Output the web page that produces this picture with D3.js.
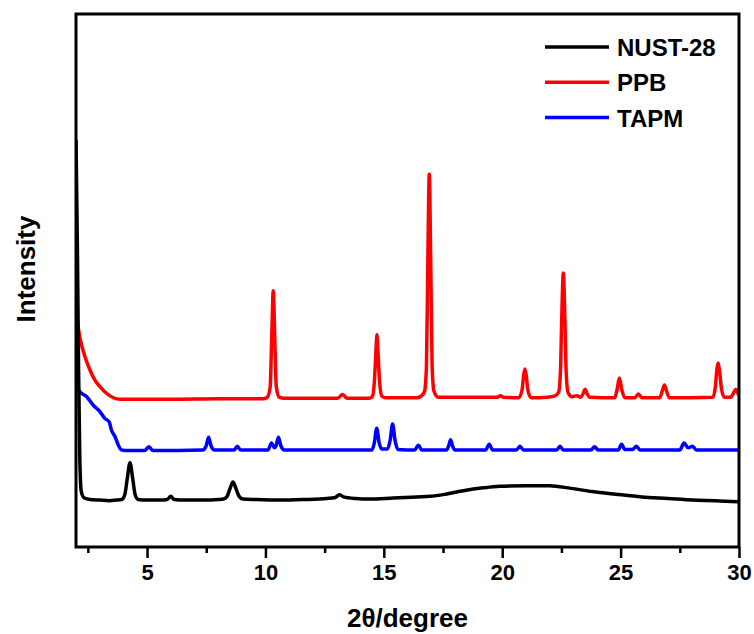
<!DOCTYPE html>
<html>
<head>
<meta charset="utf-8">
<script src="https://cdn.jsdelivr.net/npm/d3@7"></script>
<style>
  body { margin: 0; background: #fff; }
  text { font-family: "Liberation Sans", Arial, sans-serif; font-weight: bold; }
</style>
</head>
<body>
<div id="xrd-chart"></div>
<script>
// series names + colours for legend
const seriesNames = ['NUST-28', 'PPB', 'TAPM'];
const seriesColors = ['#000000', '#ff0000', '#0000ff'];

// x axis ticks
const majorTicks = [5, 10, 15, 20, 25, 30];
const minorTicks = [2.5, 7.5, 12.5, 17.5, 22.5, 27.5];
const tickLabels = ['5', '10', '15', '20', '25', '30'];

// [2theta, intensity (a.u., stacked)]
const nust28 = [
  [2.00, 764], [2.06, 560], [2.11, 330], [2.16, 170], [2.22, 105], [2.35, 92],
  [2.6, 89], [3.0, 88], [3.4, 87], [3.7, 88], [3.93, 89], [4.06, 98], [4.17, 130],
  [4.28, 158], [4.39, 130], [4.5, 98], [4.63, 89], [5.0, 88], [5.6, 88],
  [5.85, 89], [6.0, 95], [6.15, 89], [6.6, 88], [7.4, 88], [8.0, 89],
  [8.23, 90], [8.37, 94], [8.5, 109], [8.63, 122], [8.76, 109], [8.89, 95],
  [9.05, 90], [9.6, 89], [10.6, 88], [11.6, 89], [12.6, 91], [12.95, 93],
  [13.12, 98], [13.3, 94], [13.8, 91], [14.4, 90], [15.4, 92], [16.4, 94],
  [16.95, 95], [17.6, 99], [18.3, 105], [19.2, 111], [19.9, 114], [21.0, 115],
  [22.0, 115], [22.9, 110], [23.8, 104], [24.8, 99], [25.9, 94], [27.0, 91],
  [28.05, 88], [29.0, 87], [30.0, 85]
];

const ppb = [
  [2.00, 439], [2.17, 392], [2.38, 357], [2.59, 332], [2.8, 313], [3.01, 301],
  [3.3, 288], [3.58, 280], [3.86, 277], [4.5, 277], [6.0, 277], [8.0, 278],
  [9.9, 278], [10.08, 281], [10.2, 300], [10.27, 400], [10.33, 481], [10.39, 400],
  [10.46, 300], [10.58, 281], [10.8, 279], [13.05, 279], [13.26, 286], [13.45, 279],
  [14.4, 279], [14.52, 283], [14.6, 310], [14.66, 360], [14.71, 398], [14.76, 360],
  [14.82, 310], [14.92, 283], [15.05, 280], [16.4, 280], [16.6, 284], [16.72, 292],
  [16.8, 338], [16.86, 540], [16.92, 700], [16.98, 540], [17.04, 338], [17.12, 292],
  [17.3, 281], [19.8, 281], [19.92, 284], [20.05, 281], [20.7, 280], [20.84, 295],
  [20.9, 320], [20.96, 334], [21.02, 320], [21.08, 295], [21.22, 280], [21.9, 281],
  [22.2, 283], [22.38, 290], [22.46, 330], [22.52, 440], [22.58, 514], [22.64, 440],
  [22.7, 330], [22.78, 290], [22.95, 282], [23.15, 284], [23.32, 281], [23.42, 288],
  [23.5, 296], [23.58, 288], [23.7, 281], [24.75, 280], [24.85, 295], [24.95, 317],
  [25.05, 295], [25.18, 280], [25.6, 280], [25.75, 287], [25.9, 280], [26.65, 280],
  [26.76, 293], [26.85, 304], [26.94, 293], [27.05, 280], [28.9, 281], [29.0, 300],
  [29.07, 335], [29.12, 345], [29.18, 330], [29.26, 297], [29.38, 281], [29.65, 281],
  [29.78, 290], [29.87, 296], [29.95, 289], [30.0, 284]
];

const tapm = [
  [2.00, 304], [2.17, 291], [2.45, 282], [2.73, 266], [3.01, 254], [3.22, 241],
  [3.4, 235], [3.5, 219], [3.65, 207], [3.79, 191], [3.93, 182], [4.2, 181],
  [4.9, 181], [5.08, 188], [5.25, 181], [7.35, 182], [7.5, 190], [7.6, 206],
  [7.7, 190], [7.85, 182], [8.68, 182], [8.81, 189], [8.95, 182], [10.1, 182],
  [10.26, 195], [10.38, 186], [10.45, 190], [10.55, 206], [10.65, 190], [10.8, 182],
  [14.5, 182], [14.6, 196], [14.7, 223], [14.8, 196], [14.92, 184], [15.15, 184],
  [15.27, 201], [15.37, 231], [15.47, 201], [15.6, 183], [16.3, 182], [16.46, 191],
  [16.6, 182], [17.65, 182], [17.74, 190], [17.82, 201], [17.9, 190], [18.0, 182],
  [19.3, 182], [19.45, 193], [19.6, 182], [20.6, 182], [20.75, 189], [20.9, 182],
  [22.3, 182], [22.44, 189], [22.58, 182], [23.75, 182], [23.9, 188], [24.05, 182],
  [24.9, 182], [25.04, 193], [25.18, 183], [25.5, 183], [25.67, 189], [25.82, 182],
  [27.5, 182], [27.68, 195], [27.85, 186], [28.04, 189], [28.2, 182], [30.0, 182]
];

//@function config
const width = 754, height = 634;
const margin = { top: 14, right: 15, bottom: 87, left: 76 };
const plotW = width - margin.left - margin.right;
const plotH = height - margin.top - margin.bottom;

const x = d3.scaleLinear().domain([2, 30]).range([0, plotW]);
const y = d3.scaleLinear().domain([0, 1000]).range([plotH, 0]);

function draw() {
  const svg = d3.select('#xrd-chart').append('svg')
    .attr('width', width)
    .attr('height', height);

  svg.append('defs').append('clipPath')
    .attr('id', 'plot-clip')
    .append('rect')
    .attr('width', plotW)
    .attr('height', plotH);

  const g = svg.append('g')
    .attr('transform', `translate(${margin.left},${margin.top})`);

  //@curves - PPB, TAPM first so NUST-28 sits on top like the original
  const line = d3.line()
    .x(d => x(d[0]))
    .y(d => y(d[1]))
    .curve(d3.curveMonotoneX);

  const curves = [ppb, tapm, nust28];
  const curveColors = [seriesColors[1], seriesColors[2], seriesColors[0]];
  g.append('g')
    .attr('clip-path', 'url(#plot-clip)')
    .selectAll('path')
    .data(curves)
    .enter()
    .append('path')
    .attr('d', line)
    .attr('fill', 'none')
    .attr('stroke', (d, i) => curveColors[i])
    .attr('stroke-width', 3.5)
    .attr('stroke-linejoin', 'round');

  //@x axis (major + minor ticks, outward)
  const xAxis = d3.axisBottom(x)
    .tickValues(majorTicks)
    .tickFormat((d, i) => tickLabels[i])
    .tickSize(11)
    .tickPadding(6);
  const ax = g.append('g')
    .attr('transform', `translate(0,${plotH})`)
    .call(xAxis);
  ax.select('.domain').remove();
  ax.selectAll('.tick line').attr('stroke', '#000').attr('stroke-width', 2.5);
  ax.selectAll('.tick text')
    .attr('font-size', 22)
    .attr('font-family', '"Liberation Sans", Arial, sans-serif')
    .attr('font-weight', 'bold')
    .attr('fill', '#000');

  const minorAxis = d3.axisBottom(x)
    .tickValues(minorTicks)
    .tickFormat('')
    .tickSize(6);
  const mx = g.append('g')
    .attr('transform', `translate(0,${plotH})`)
    .call(minorAxis);
  mx.select('.domain').remove();
  mx.selectAll('.tick line').attr('stroke', '#000').attr('stroke-width', 2.5);

  //@frame
  g.append('rect')
    .attr('x', 0)
    .attr('y', 0)
    .attr('width', plotW)
    .attr('height', plotH)
    .attr('fill', 'none')
    .attr('stroke', '#000')
    .attr('stroke-width', 3);

  //@axis titles
  svg.append('text')
    .attr('x', margin.left + plotW / 2)
    .attr('y', 627)
    .attr('text-anchor', 'middle')
    .attr('font-size', 26)
    .text('2θ/degree');

  svg.append('text')
    .attr('transform', 'translate(35,269) rotate(-90)')
    .attr('text-anchor', 'middle')
    .attr('font-size', 26)
    .text('Intensity');

  //@legend
  const legend = svg.append('g')
    .attr('transform', 'translate(545,47)');
  const item = legend.selectAll('g')
    .data(seriesNames)
    .enter()
    .append('g')
    .attr('transform', (d, i) => `translate(0,${i * 35.3})`);
  item.append('line')
    .attr('x1', 0)
    .attr('x2', 64)
    .attr('stroke', (d, i) => seriesColors[i])
    .attr('stroke-width', 3.5);
  item.append('text')
    .attr('x', 72)
    .attr('y', 9)
    .attr('font-size', 24)
    .text(d => d);
}

draw();
</script>
</body>
</html>
